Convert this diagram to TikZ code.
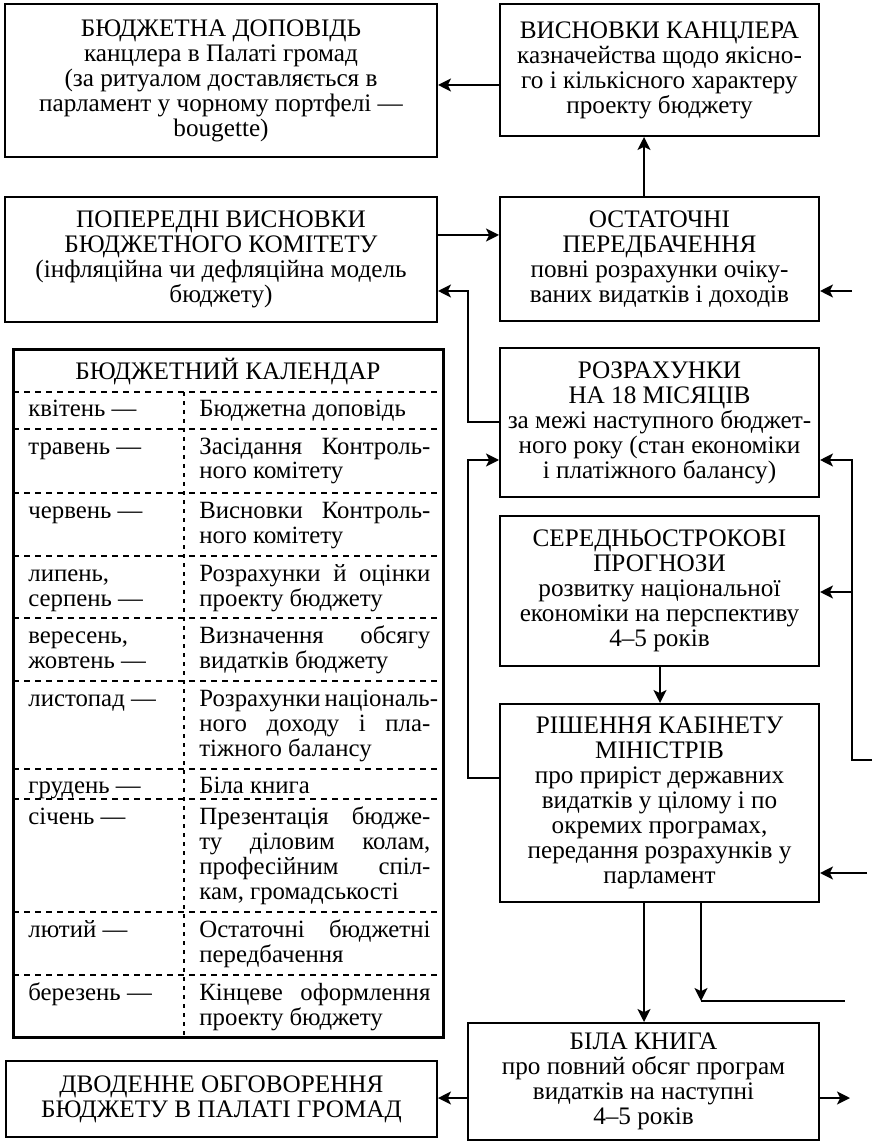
\documentclass[tikz,border=0pt]{standalone}
\usepackage{fontspec}
\setmainfont{Liberation Serif}
\usetikzlibrary{arrows.meta}
\newcommand\myfont{\fontsize{12.6}{12.5}\selectfont\lineskiplimit=-20pt\relax}
\newcommand\calfont{\fontsize{12.4}{12.5}\selectfont\lineskiplimit=-20pt\relax}
\tikzset{
  boxst/.style={draw, line width=1pt, inner sep=0pt, align=center},
  calst/.style={draw, line width=1.5pt, inner sep=0pt},
  conn/.style={line width=1pt, -{Stealth[length=6.5pt,width=6.5pt,inset=1.6pt]}},
  plainln/.style={line width=1pt},
  dline/.style={line width=1pt, dash pattern=on 3pt off 2.5pt},
  vdline/.style={line width=0.8pt, dash pattern=on 2pt off 2.5pt},
  cell/.style={anchor=base west, inner sep=0pt, font=\calfont},
}
\newcommand\mybox[7][boxst]{\node[#1, minimum width={(#5-#3)*0.5pt}, minimum height={(#6-#4)*0.5pt}] (#2) at ({(#3+#5)/2},{(#4+#6)/2}) {#7};}
\newcommand\lc[1]{\parbox[t]{78pt}{\raggedright #1}}
\newcommand\rc[1]{\parbox[t]{115.5pt}{\raggedright #1}}
\newcommand\jl[1]{\makebox[115.5pt][s]{#1}}
\begin{document}
\begin{tikzpicture}[x=0.5pt,y=-0.5pt,
  every node/.style={font=\myfont}]
\useasboundingbox (0,0) rectangle (872,1143);

% boxes
\mybox{b1}{5}{4}{437}{157}{БЮДЖЕТНА ДОПОВІДЬ\\канцлера в Палаті громад\\(за ритуалом доставляється в\\парламент у чорному портфелі —\\bougette)}
\mybox{b2}{500}{4}{819}{136}{ВИСНОВКИ КАНЦЛЕРА\\казначейства щодо якісно-\\го і кількісного характеру\\проекту бюджету}
\mybox{b3}{5}{197}{437}{322}{ПОПЕРЕДНІ ВИСНОВКИ\\БЮДЖЕТНОГО КОМІТЕТУ\\(інфляційна чи дефляційна модель\\бюджету)}
\mybox{b4}{500}{197}{819}{321}{ОСТАТОЧНІ\\ПЕРЕДБАЧЕННЯ\\повні розрахунки очіку-\\ваних видатків і доходів}
\mybox{b5}{500}{348}{819}{497}{РОЗРАХУНКИ\\НА 18 МІСЯЦІВ\\за межі наступного бюджет-\\ного року (стан економіки\\і платіжного балансу)}
\mybox{b6}{500}{516}{819}{666}{СЕРЕДНЬОСТРОКОВІ\\ПРОГНОЗИ\\розвитку національної\\економіки на перспективу\\4–5 років}
\mybox{b7}{500}{704}{819}{902}{РІШЕННЯ КАБІНЕТУ\\МІНІСТРІВ\\про приріст державних\\видатків у цілому і по\\окремих програмах,\\передання розрахунків у\\парламент}
\mybox{b8}{468}{1023}{819}{1140}{БІЛА КНИГА\\про повний обсяг програм\\видатків на наступні\\4–5 років}
\mybox{b9}{6}{1061}{437}{1137}{ДВОДЕННЕ ОБГОВОРЕННЯ\\БЮДЖЕТУ В ПАЛАТІ ГРОМАД}

% calendar
\mybox[calst]{cal}{13}{350}{443}{1037}{}
\node (calt) at (228,372) {БЮДЖЕТНИЙ КАЛЕНДАР};
\foreach \yy in {392,429,493,556,618,681,769,799,912,975}
  \draw[dline] (13,\yy) -- (443,\yy);
\draw[vdline] (184,392) -- (184,1037);

\node[cell] (m1) at (28,417) {\lc{квітень —}};
\node[cell] (d1) at (199,417) {\rc{Бюджетна доповідь}};
\node[cell] (m2) at (28,454) {\lc{травень —}};
\node[cell] (d2) at (199,454) {\rc{\jl{Засідання Контроль-}\\ного комітету}};
\node[cell] (m3) at (28,518) {\lc{червень —}};
\node[cell] (d3) at (199,518) {\rc{\jl{Висновки Контроль-}\\ного комітету}};
\node[cell] (m4) at (28,581) {\lc{липень,\\серпень —}};
\node[cell] (d4) at (199,581) {\rc{\jl{Розрахунки й оцінки}\\проекту бюджету}};
\node[cell] (m5) at (28,643) {\lc{вересень,\\жовтень —}};
\node[cell] (d5) at (199,643) {\rc{\jl{Визначення обсягу}\\видатків бюджету}};
\node[cell] (m6) at (28,706) {\lc{листопад —}};
\node[cell] (d6) at (199,706) {\rc{\jl{Розрахунки національ-}\\\jl{ного доходу і пла-}\\тіжного балансу}};
\node[cell] (m7) at (28,793) {\lc{грудень —}};
\node[cell] (d7) at (199,793) {\rc{Біла книга}};
\node[cell] (m8) at (28,824) {\lc{січень —}};
\node[cell] (d8) at (199,824) {\rc{\jl{Презентація бюдже-}\\\jl{ту діловим колам,}\\\jl{професійним спіл-}\\кам, громадськості}};
\node[cell] (m9) at (28,937) {\lc{лютий —}};
\node[cell] (d9) at (199,937) {\rc{\jl{Остаточні бюджетні}\\передбачення}};
\node[cell] (m10) at (28,1000) {\lc{березень —}};
\node[cell] (d10) at (199,1000) {\rc{\jl{Кінцеве оформлення}\\проекту бюджету}};

% helper coordinates
\coordinate (h85) at (0,85);
\coordinate (h235) at (0,235);
\coordinate (h291) at (0,291);
\coordinate (h422) at (0,422);
\coordinate (h460) at (0,460);
\coordinate (h592) at (0,592);
\coordinate (h778) at (0,778);
\coordinate (h873) at (0,873);
\coordinate (h1098) at (0,1098);
\coordinate (v468) at (468,0);
\coordinate (v644) at (644,0);
\coordinate (v660) at (660,0);
\coordinate (v701) at (701,0);
\coordinate (v852) at (852,0);
\coordinate (e1) at (852,291);
\coordinate (e2) at (872,760);
\coordinate (e3) at (867,873);
\coordinate (e4) at (845,1001);
\coordinate (e5) at (850,1098);
\coordinate (j1) at (701,1001);

% connectors
\draw[conn] (b2.west |- h85) -- (b1.east |- h85);
\draw[conn] (b4.north -| v644) -- (b2.south -| v644);
\draw[conn] (b3.east |- h235) -- (b4.west |- h235);
\draw[conn] (b5.west |- h422) -| (v468 |- h291) -- (b3.east |- h291);
\draw[conn] (e1) -- (b4.east |- h291);
\draw[conn] (b7.west |- h778) -| (v468 |- h460) -- (b5.west |- h460);
\draw[conn] (e2) -| (v852 |- h460) -- (b5.east |- h460);
\draw[conn] (v852 |- h592) -- (b6.east |- h592);
\draw[conn] (b6.south -| v660) -- (b7.north -| v660);
\draw[conn] (e3) -- (b7.east |- h873);
\draw[conn] (b7.south -| v644) -- (b8.north -| v644);
\draw[conn] (b7.south -| v701) -- (j1);
\draw[plainln] (j1) -- (e4);
\draw[conn] (b8.west |- h1098) -- (b9.east |- h1098);
\draw[conn] (b8.east |- h1098) -- (e5);
\end{tikzpicture}
\end{document}
